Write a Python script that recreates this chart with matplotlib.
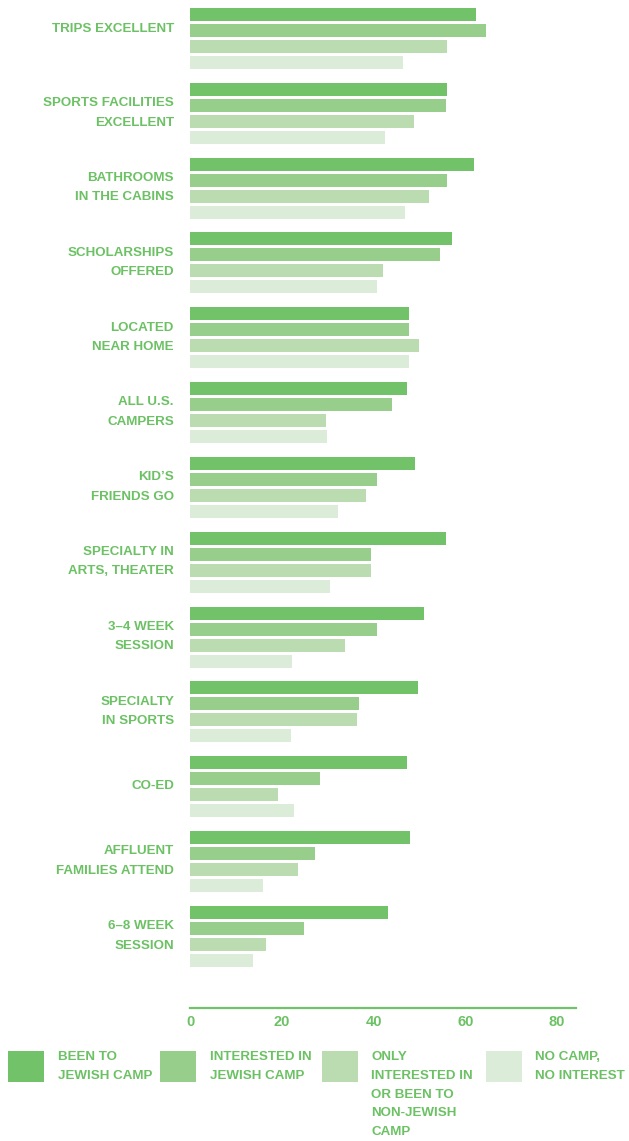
import matplotlib
matplotlib.use("Agg")
import matplotlib.pyplot as plt
from matplotlib.patches import Rectangle
from matplotlib.transforms import blended_transform_factory

# Camp features, top to bottom
CATEGORIES = [
    "TRIPS EXCELLENT",
    "SPORTS FACILITIES\nEXCELLENT",
    "BATHROOMS\nIN THE CABINS",
    "SCHOLARSHIPS\nOFFERED",
    "LOCATED\nNEAR HOME",
    "ALL U.S.\nCAMPERS",
    "KID\u2019S\nFRIENDS GO",
    "SPECIALTY IN\nARTS, THEATER",
    "3\u20134 WEEK\nSESSION",
    "SPECIALTY\nIN SPORTS",
    "CO-ED",
    "AFFLUENT\nFAMILIES ATTEND",
    "6\u20138 WEEK\nSESSION",
]

BEEN_JEWISH = [62.3, 56.0, 61.9, 57.1, 47.7, 47.3, 49.0, 55.8, 51.0, 49.7, 47.3, 48.0, 43.2]
INTERESTED_JEWISH = [64.5, 55.8, 56.0, 54.5, 47.7, 44.0, 40.8, 39.5, 40.8, 36.8, 28.3, 27.2, 24.9]
NON_JEWISH = [56.0, 48.8, 52.1, 42.1, 49.9, 29.6, 38.4, 39.5, 33.8, 36.4, 19.2, 23.5, 16.6]
NO_CAMP = [46.4, 42.5, 46.9, 40.8, 47.7, 29.9, 32.3, 30.5, 22.2, 22.0, 22.7, 15.9, 13.7]

SERIES_LABELS = [
    "BEEN TO\nJEWISH CAMP",
    "INTERESTED IN\nJEWISH CAMP",
    "ONLY\nINTERESTED IN\nOR BEEN TO\nNON-JEWISH\nCAMP",
    "NO CAMP,\nNO INTEREST",
]
X_TICKS = [0, 20, 40, 60, 80]

COLORS = ["#72c26a", "#98ce8b", "#bbdcb0", "#dbedd8"]
TEXT_COLOR = "#6cc164"
FONT = ["Liberation Sans", "DejaVu Sans"]

W, H = 629, 1141
PX_PER_UNIT = 4.5875

fig = plt.figure(figsize=(W / 100, H / 100), dpi=100)
# axes in pixel-like units: y runs 0..1008 from the top
ax = fig.add_axes([190 / W, (H - 1008) / H, 386 / W, 1008 / H])
ax.set_xlim(0, 386 / PX_PER_UNIT)
ax.set_ylim(1008, 0)

group_pitch = 74.83
bar_pitch = 16
series = [BEEN_JEWISH, INTERESTED_JEWISH, NON_JEWISH, NO_CAMP]
centers = [38.5 + i * group_pitch for i in range(len(CATEGORIES))]
for k, vals in enumerate(series):
    ys = [c + (k - 1.5) * bar_pitch for c in centers]
    ax.barh(ys, vals, height=13, color=COLORS[k], linewidth=0)

# category labels right-aligned left of the bars
# (the first one sits level with the upper pair of bars)
label_shift = {0: -9}
trans = blended_transform_factory(fig.transFigure, ax.transData)
for i, (c, lab) in enumerate(zip(centers, CATEGORIES)):
    ax.text(174 / W, c - 0.5 + label_shift.get(i, 0), lab, transform=trans,
            ha="right", va="center", fontsize=9.6, fontweight="bold",
            color=TEXT_COLOR, family=FONT, linespacing=1.82)

for s in ["top", "left", "right"]:
    ax.spines[s].set_visible(False)
ax.spines["bottom"].set_color(COLORS[0])
ax.spines["bottom"].set_linewidth(1.6)
ax.set_yticks([])
ax.set_xticks(X_TICKS)
ax.set_xticklabels([str(t) for t in X_TICKS], fontsize=10.5, fontweight="bold",
                   color=TEXT_COLOR, family=FONT)
ax.tick_params(axis="x", length=0, pad=5)

# legend drawn by hand along the bottom
box_x = [8, 160, 322, 486]
text_x = [58, 210, 371, 535]
for k in range(4):
    fig.patches.append(Rectangle((box_x[k] / W, 1 - 1082 / H), 36 / W, 31 / H,
                                 transform=fig.transFigure, color=COLORS[k],
                                 linewidth=0))
    fig.text(text_x[k] / W, 1 - 1051 / H, SERIES_LABELS[k], ha="left", va="top",
             fontsize=9.6, fontweight="bold", color=TEXT_COLOR, family=FONT,
             linespacing=1.75)

fig.savefig("out.png", dpi=100)
